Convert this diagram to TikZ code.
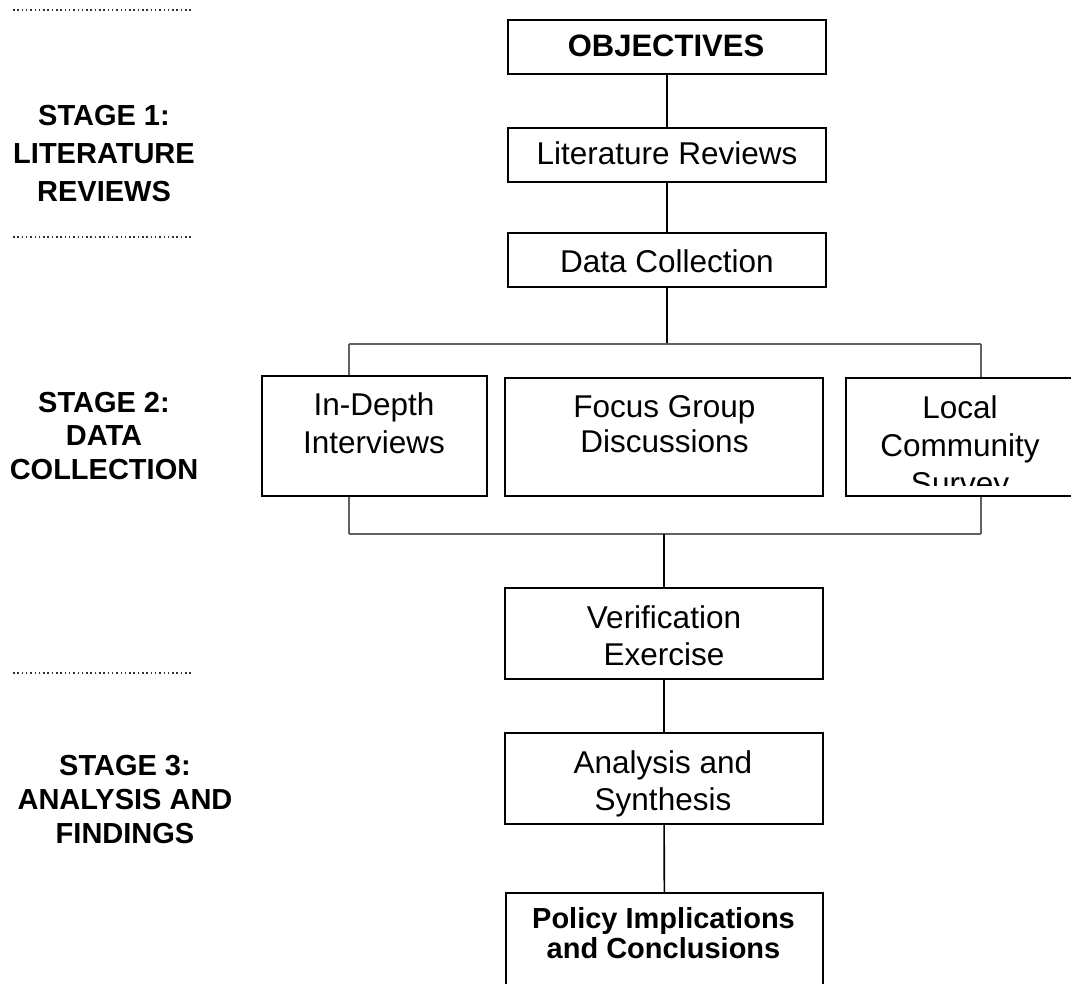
\documentclass[tikz,border=0pt]{standalone}
\usepackage{fontspec}
\setmainfont{Liberation Sans}
\begin{document}
\begin{tikzpicture}[x=1pt,y=-1pt,
  box/.style={draw=black,line width=1.6pt,inner sep=0pt},
  link/.style={draw=black,line width=1.6pt},
  bar/.style={draw=black!62,line width=1.1pt},
  sep/.style={draw=black!80,line width=1.6pt,dash pattern=on 1.5pt off 2.8pt},
  txt/.style={inner sep=0pt,align=center,font=\fontsize{31.5}{37}\selectfont},
  stage/.style={inner sep=0pt,align=center,anchor=north},
]
\useasboundingbox (0,0) rectangle (1071,983);
% separators
\coordinate (d1a) at (13,10);  \coordinate (d1b) at (192,10);
\coordinate (d2a) at (13,237); \coordinate (d2b) at (192,237);
\coordinate (d3a) at (13,673); \coordinate (d3b) at (192,673);
\draw[sep] (d1a) -- (d1b);
\draw[sep] (d2a) -- (d2b);
\draw[sep] (d3a) -- (d3b);
% stage labels
\node[stage,font=\bfseries\fontsize{29}{38}\selectfont] (s1) at (104,105) {STAGE 1:\\LITERATURE\\REVIEWS};
\node[stage,font=\bfseries\fontsize{29}{33.5}\selectfont] (s2) at (104,392) {STAGE 2:\\DATA\\COLLECTION};
\node[stage,font=\bfseries\fontsize{29}{34}\selectfont] (s3) at (125,755) {STAGE 3:\\ANALYSIS AND\\FINDINGS};
% boxes
\node[box,minimum width=318pt,minimum height=54pt] (obj) at (667,47) {};
\node[inner sep=0pt,font=\bfseries\fontsize{31}{37}\selectfont] (objt) at (666,46) {OBJECTIVES};
\node[box,minimum width=318pt,minimum height=54pt] (lit) at (667,155) {};
\node[txt] (litt) at (667,153) {Literature Reviews};
\node[box,minimum width=318pt,minimum height=54pt] (dc) at (667,260) {};
\node[txt] (dct) at (667,261) {Data Collection};
\node[box,minimum width=225pt,minimum height=120pt] (idi) at (374.5,436) {};
\node[txt,anchor=north,font=\fontsize{31.5}{38}\selectfont] (idit) at (374,392) {In-Depth\\Interviews};
\node[box,minimum width=318pt,minimum height=118pt] (fgd) at (664,437) {};
\node[txt,anchor=north,font=\fontsize{31.5}{35}\selectfont] (fgdt) at (664.5,395) {Focus Group\\Discussions};
\node[box,minimum width=228pt,minimum height=118pt] (lcs) at (960,437) {};
\begin{scope}
\clip (846,378) rectangle (1074,485);
\node[txt,anchor=north,font=\fontsize{31.5}{38}\selectfont] (lcst) at (960,395) {Local\\Community\\Survey};
\end{scope}
\node[box,minimum width=318pt,minimum height=91pt] (ver) at (664,633.5) {};
\node[txt,anchor=north] (vert) at (664,605) {Verification\\Exercise};
\node[box,minimum width=318pt,minimum height=91pt] (ana) at (664,778.5) {};
\node[txt,anchor=north] (anat) at (663,750) {Analysis and\\Synthesis};
\node[box,minimum width=317pt,minimum height=120pt] (pol) at (664.5,953) {};
\node[txt,anchor=north,font=\bfseries\fontsize{29}{30}\selectfont] (polt) at (663.5,907) {Policy Implications\\and Conclusions};
% connectors
\draw[link] (obj) -- (lit);
\draw[link] (lit) -- (dc);
\coordinate (bt) at (667,344);
\coordinate (btl) at (349,344);
\coordinate (btr) at (981,344);
\coordinate (bb) at (664,534);
\coordinate (bbl) at (349,534);
\coordinate (bbr) at (981,534);
\draw[link] (dc.south) -- (bt);
\draw[bar] (btl) -- (btr);
\draw[bar] (btl) -- (btl |- idi.north);
\draw[bar] (btr) -- (btr |- lcs.north);
\draw[bar] (bbl) -- (bbr);
\draw[bar] (bbl |- idi.south) -- (bbl);
\draw[bar] (bbr |- lcs.south) -- (bbr);
\draw[link] (bb) -- (ver.north);
\draw[link] (ver) -- (ana);
\draw[link] (ana) -- (pol);
\end{tikzpicture}
\end{document}
